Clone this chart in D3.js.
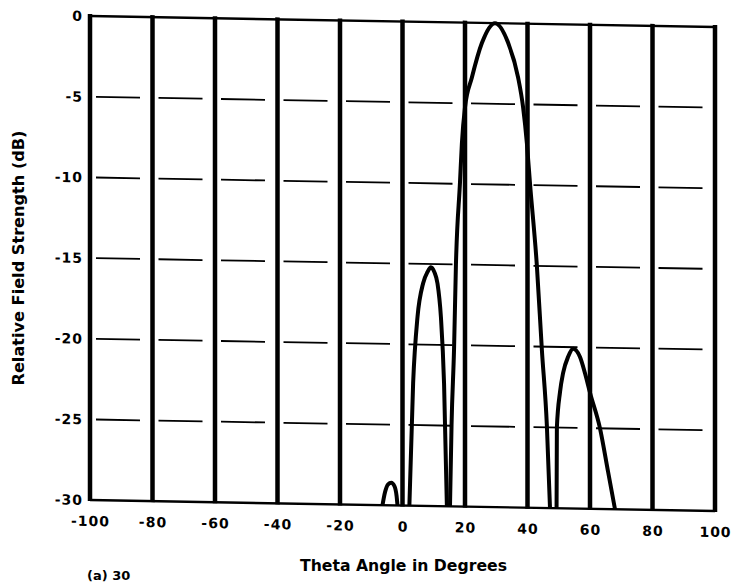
<!DOCTYPE html>
<html>
<head>
<meta charset="utf-8">
<title>Relative Field Strength</title>
<script src="https://d3js.org/d3.v7.min.js"></script>
<style>
  body { margin: 0; background: #fff; }
  svg { display: block; }
  text { font-family: "DejaVu Sans", sans-serif; font-weight: bold; fill: #000; }
</style>
</head>
<body>
<div id="chart"></div>
<script>
// tick values
var xTicks = [-100, -80, -60, -40, -20, 0, 20, 40, 60, 80, 100];
var yTicks = [0, -5, -10, -15, -20, -25, -30];

// pattern, lobe by lobe (deg, dB; -30 is the floor)
var backLobeDeg = [-6.4, -5.6, -4.6, -3.6, -2.6, -1.9, -1.6];
var backLobeDb  = [-30, -29.2, -28.7, -28.6, -28.8, -29.4, -30];

var sideLobe1Deg = [2.2, 3.4, 4.8, 6.6, 8.0, 9.1, 10.2, 11.2, 12.3, 13.3, 14.2];
var sideLobe1Db  = [-30, -22.4, -18.3, -16.2, -15.5, -15.2, -15.5, -16.2, -18.3, -22.4, -30];

var mainLobeDeg = [15.2, 15.7, 16.5, 17.1, 18.4, 19.0, 20.0, 22.2, 25.4, 29.6,
                   33.8, 37.0, 38.6, 39.8, 40.8, 43.0, 44.6, 46.2, 47.2];
var mainLobeDb  = [-30, -24.9, -20.2, -15.0, -9.9, -7.5, -5.25, -3.4, -1.25, 0,
                   -1.2, -3.35, -5.2, -7.4, -9.9, -15.0, -20.2, -24.9, -30];

var sideLobe2Deg = [49.3, 49.4, 50.4, 51.4, 53.0, 54.6, 56.8, 58.4, 60.0, 63.2, 65.8, 68.0];
var sideLobe2Db  = [-30, -25.0, -22.8, -21.6, -20.6, -20.1, -20.6, -21.6, -22.8, -25.0, -27.7, -30];

var xTitle = "Theta Angle in Degrees";
var yTitle = "Relative Field Strength (dB)";
var caption = "(a) 30";

var svg = d3.select("#chart").append("svg")
  .attr("width", 739)
  .attr("height", 585);

var x = d3.scaleLinear().domain([-100, 100]).range([90, 715]);
var y = d3.scaleLinear().domain([-30, 0]).range([498.5, 14.5]);

// the scanned figure is a bit tilted
var plot = svg.append("g").attr("transform", "skewY(1)");

// dash-dot horizontal grid, one dash per cell
var cell = x(20) - x(0);
plot.selectAll(".hgrid")
  .data(yTicks.filter(function (d) { return d < 0 && d > -30; }))
  .enter().append("line")
  .attr("class", "hgrid")
  .attr("x1", x(-100)).attr("x2", x(100))
  .attr("y1", function (d) { return y(d); })
  .attr("y2", function (d) { return y(d); })
  .attr("stroke", "#000")
  .attr("stroke-width", 1.8)
  .attr("stroke-dasharray", [0, 6, cell - 18.5, 12.5].join(","));

// solid top and bottom lines
plot.selectAll(".hedge")
  .data([0, -30])
  .enter().append("line")
  .attr("x1", x(-100)).attr("x2", x(100))
  .attr("y1", function (d) { return y(d); })
  .attr("y2", function (d) { return y(d); })
  .attr("stroke", "#000")
  .attr("stroke-width", 2.4);

// heavy vertical grid
plot.selectAll(".vgrid")
  .data(xTicks)
  .enter().append("line")
  .attr("class", "vgrid")
  .attr("x1", function (d) { return x(d); })
  .attr("x2", function (d) { return x(d); })
  .attr("y1", y(0) - 2)
  .attr("y2", y(-30) + 1)
  .attr("stroke", "#000")
  .attr("stroke-width", 4.5);

// pattern
var lobes = [
  { deg: backLobeDeg, db: backLobeDb },
  { deg: sideLobe1Deg, db: sideLobe1Db },
  { deg: mainLobeDeg, db: mainLobeDb },
  { deg: sideLobe2Deg, db: sideLobe2Db }
];
var line = d3.line()
  .x(function (d) { return x(d[0]); })
  .y(function (d) { return y(d[1]); })
  .curve(d3.curveMonotoneX);

plot.selectAll(".lobe")
  .data(lobes)
  .enter().append("path")
  .attr("class", "lobe")
  .attr("d", function (d) { return line(d3.zip(d.deg, d.db)); })
  .attr("fill", "none")
  .attr("stroke", "#000")
  .attr("stroke-width", 4)
  .attr("stroke-linejoin", "round");

// axes (labels only)
var yAxis = plot.append("g")
  .attr("transform", "translate(" + x(-100) + ",0)")
  .call(d3.axisLeft(y).tickValues(yTicks).tickSize(0).tickPadding(7)
    .tickFormat(function (d) { return String(d); }));
yAxis.select(".domain").remove();

var xAxis = plot.append("g")
  .attr("transform", "translate(0," + y(-30) + ")")
  .call(d3.axisBottom(x).tickValues(xTicks).tickSize(0).tickPadding(16)
    .tickFormat(function (d) { return String(d); }));
xAxis.select(".domain").remove();

plot.selectAll(".tick text")
  .attr("font-family", "DejaVu Sans, sans-serif")
  .attr("font-weight", "bold")
  .attr("font-size", 14)
  .attr("letter-spacing", 1)
  .attr("fill", "#000");

// titles
svg.append("text")
  .attr("x", 403.5)
  .attr("y", 571)
  .attr("text-anchor", "middle")
  .attr("font-size", 15)
  .attr("textLength", 207)
  .attr("lengthAdjust", "spacingAndGlyphs")
  .text(xTitle);

svg.append("text")
  .attr("transform", "translate(23.5,258) rotate(-90)")
  .attr("text-anchor", "middle")
  .attr("font-size", 15)
  .attr("textLength", 255)
  .attr("lengthAdjust", "spacingAndGlyphs")
  .text(yTitle);

// caption peeks in at the bottom edge of the scan
svg.append("text")
  .attr("x", 87)
  .attr("y", 580)
  .attr("font-size", 13)
  .text(caption);
</script>
</body>
</html>
